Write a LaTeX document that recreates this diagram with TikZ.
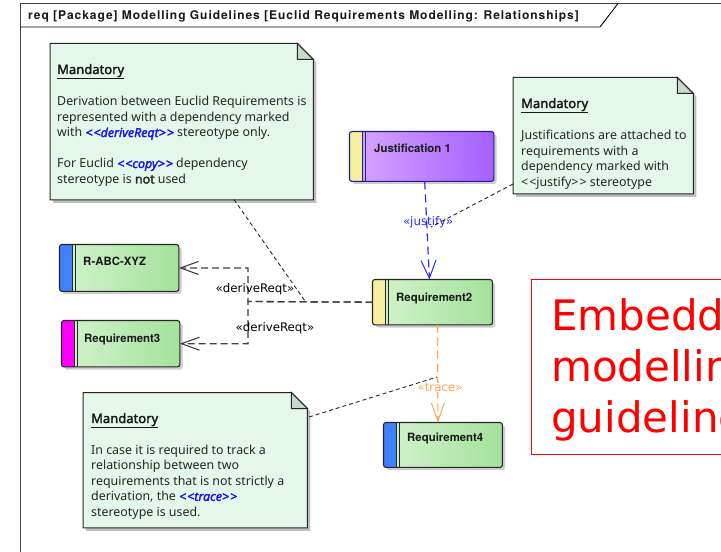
\documentclass[tikz,border=0pt]{standalone}
\usepackage{fontspec}
\setmainfont{Noto Sans}[BoldFont={Noto Sans}, BoldFeatures={FakeBold=2.2}, BoldItalicFont={Noto Sans Italic}, BoldItalicFeatures={FakeBold=2.2}]
\newfontfamily\herosf{TeX Gyre Heros}
\newfontfamily\titlef{TeX Gyre Heros}[LetterSpace=8]
\newfontfamily\dejavuf{DejaVu Sans}
\usetikzlibrary{arrows.meta}
\definecolor{notefill}{HTML}{E3F8EA}
\definecolor{foldfill}{HTML}{C4DBCB}
\definecolor{reqL}{HTML}{D4F3CE}
\definecolor{reqR}{HTML}{A4E29C}
\definecolor{jusL}{HTML}{D8A8FF}
\definecolor{jusR}{HTML}{A65FFF}
\definecolor{jusB}{HTML}{1E1E8C}
\definecolor{stripeY}{HTML}{F5F0A0}
\definecolor{stripeB}{HTML}{3F80FF}
\definecolor{stripeM}{HTML}{FF00FF}
\definecolor{jblue}{HTML}{2B2BFF}
\definecolor{torange}{HTML}{FFA550}
\definecolor{dgray}{HTML}{404040}
\definecolor{kwblue}{HTML}{1414F0}
\newcommand\kw[1]{{\color{kwblue}\bfseries\itshape #1}}
\newcommand\reqbox[8]{%
  \fill[black!20, rounded corners=2.5bp] (#2+3,#3+3) rectangle ++(#4,#5);
  \node[anchor=north west, minimum width=#4bp, minimum height=#5bp, inner sep=0pt,
        rounded corners=2.5bp, #7 fill] (#1) at (#2,#3) {};
  \begin{scope}
    \clip[rounded corners=2.5bp] (#1.north west) rectangle (#1.south east);
    \fill[#6] (#1.north west) rectangle ([xshift=13bp]#1.south west);
  \end{scope}
  \draw[#7 line, line width=1.2bp] ([xshift=13bp]#1.north west) -- ([xshift=13bp]#1.south west);
  \draw[#7 line, line width=0.9bp] ([xshift=16bp]#1.north west) -- ([xshift=16bp]#1.south west);
  \draw[#7 line, line width=1.1bp, rounded corners=2.5bp] (#1.north west) rectangle (#1.south east);
}
\newcommand\notebox[5]{% name x y w h
  \node[anchor=north west, minimum width=#4bp, minimum height=#5bp, inner sep=0pt] (#1) at (#2,#3) {};
  \fill[black!25] ([shift={(3bp,-3bp)}]#1.north west) -- ([shift={(-13bp,-3bp)}]#1.north east)
     -- ([shift={(3bp,-19bp)}]#1.north east) -- ([shift={(3bp,-3bp)}]#1.south east)
     -- ([shift={(3bp,-3bp)}]#1.south west) -- cycle;
  \draw[notebody] (#1.north west) -- ([xshift=-16bp]#1.north east) -- ([yshift=-16bp]#1.north east)
     -- (#1.south east) -- (#1.south west) -- cycle;
  \draw[notefold] ([xshift=-16bp]#1.north east) -- ([xshift=-16bp,yshift=-16bp]#1.north east)
     -- ([yshift=-16bp]#1.north east) -- cycle;
}
\tikzset{
  req fill/.style={left color=reqL, right color=reqR, draw=none},
  req line/.style={draw=black!85},
  jus fill/.style={left color=jusL, right color=jusR, draw=none},
  jus line/.style={draw=jusB},
  reqlabel/.style={font=\herosf\bfseries\fontsize{11.4bp}{13bp}\selectfont, inner sep=0pt, text=black!90},
  notebody/.style={fill=notefill, draw=black!85, line width=1bp},
  notefold/.style={fill=foldfill, draw=black!85, line width=1bp},
  notetext/.style={font=\fontsize{12.4bp}{15bp}\selectfont, inner sep=0pt, text=black!85, anchor=base west},
  notehead/.style={font=\bfseries\fontsize{13bp}{15bp}\selectfont, inner sep=0pt, text=black!90, anchor=base west},
  linklabel/.style={font=\dejavuf\fontsize{11.8bp}{13bp}\selectfont, inner sep=1pt},
  derive/.style={draw=dgray, line width=1.3bp, dash pattern=on 7bp off 4bp, -{Straight Barb[length=18bp,width=13bp,line width=1.1bp]}},
  justifyl/.style={draw=jblue, line width=1.2bp, dash pattern=on 8bp off 5bp, -{Straight Barb[length=18bp,width=15bp,line width=1bp]}},
  tracel/.style={draw=torange, line width=1.2bp, dash pattern=on 8bp off 5bp, -{Straight Barb[length=18bp,width=13bp,line width=1bp]}},
  notelink/.style={draw=black!85, line width=0.9bp, dash pattern=on 4bp off 3bp},
}
\begin{document}
\begin{tikzpicture}[x=1bp,y=-1bp]
\useasboundingbox (0,0) rectangle (721,552);
\clip (0,0) rectangle (721,552);
\fill[white] (0,0) rectangle (721,552);
% frame
\draw[black!75, line width=1bp] (20.5,560) -- (20.5,3.5) -- (730,3.5);
\draw[black, line width=0.9bp] (20.5,27) -- (600,27) -- (618,3.5);
\node[font=\titlef\bfseries\fontsize{12bp}{14bp}\selectfont, inner sep=0pt, anchor=base west, text=black!90] (title) at (28,20)
  {req [Package] Modelling Guidelines [Euclid Requirements Modelling: Relationships]};

% notes
\notebox{n1}{50}{43.5}{263}{156}
\node[notehead] (n1h) at (57,74) {\underline{Mandatory}};
\foreach \t [count=\i] in {{Derivation between Euclid Requirements is},{represented with a dependency marked},{with \kw{<\kern1bp<deriveReqt>\kern1bp>} stereotype only.}}
  \node[notetext] (n1a\i) at (57,106+15.5*\i-15.5) {\t};
\foreach \t [count=\i] in {{For Euclid \kw{<\kern1bp<copy>\kern1bp>} dependency},{stereotype is \textbf{not} used}}
  \node[notetext] (n1b\i) at (57,168+15.5*\i-15.5) {\t};

\notebox{n2}{513}{77.5}{180}{116}
\node[notehead] (n2h) at (521,108) {\underline{Mandatory}};
\foreach \t [count=\i] in {{Justifications are attached to},{requirements with a},{dependency marked with},{<\kern1bp<justify>\kern1bp> stereotype}}
  \node[notetext] (n2a\i) at (521,140+15.5*\i-15.5) {\t};

\notebox{n3}{83}{392.5}{224}{135}
\node[notehead] (n3h) at (91,423) {\underline{Mandatory}};
\foreach \t [count=\i] in {{In case it is required to track a},{relationship between two},{requirements that is not strictly a},{derivation, the \kw{<\kern1bp<trace>\kern1bp>}},{stereotype is used.}}
  \node[notetext] (n3a\i) at (91,454+15.6*\i-15.6) {\t};

% requirement boxes
\reqbox{j1}{349.5}{131.5}{144}{49.5}{stripeY}{jus}{}
\node[reqlabel, anchor=base west] (j1l) at (374,153) {Justification 1};
\reqbox{ra}{59.5}{244.5}{119}{46.5}{stripeB}{req}{}
\node[reqlabel, anchor=base west] (ral) at (83,266) {R-ABC-XYZ};
\reqbox{r3}{61.5}{320.5}{118}{46}{stripeM}{req}{}
\node[reqlabel, anchor=base west] (r3l) at (84,342) {Requirement3};
\reqbox{r2}{372.5}{279.5}{119.5}{45}{stripeY}{req}{}
\node[reqlabel, anchor=base west] (r2l) at (396,301) {Requirement2};
\reqbox{r4}{383.5}{422.5}{118.5}{44.5}{stripeB}{req}{}
\node[reqlabel, anchor=base west] (r4l) at (407,441) {Requirement4};

% red box
\node[draw=red, line width=1.3bp, anchor=north west, minimum width=220bp, minimum height=175bp, inner sep=0pt] (emb) at (530.5,278.5) {};
\foreach \t [count=\i] in {Embedded,modelling,guidelines}
  \node[font=\dejavuf\fontsize{42bp}{50bp}\selectfont, text=red, inner sep=0pt, anchor=base west] (emb\i) at (551,330+51*\i-51) {\t};

% connectors
\coordinate (dj) at (248,301.5);
\draw[derive] (r2.west) -- (dj) |- (ra.east);
\draw[derive] (r2.west) -- (dj) |- (r3.east);
\node[linklabel] (dl1) at (255,289) {«deriveReqt»};
\node[linklabel] (dl2) at (275,328.5) {«deriveReqt»};
\draw[justifyl] ([xshift=3bp]j1.south) -- ([xshift=-3bp]r2.north);
\node[linklabel, text=jblue] (jl) at (428,222) {«justify»};
\draw[tracel] ([xshift=5bp]r2.south) -- ([xshift=-5bp]r4.north);
\node[linklabel, text=torange, fill=white, inner sep=0.5pt] (tl) at (440,387.5) {«trace»};

% note links
\coordinate (c1a) at (234,199.5);
\coordinate (c1b) at (305,301);
\draw[notelink] (c1a) -- (c1b);
\coordinate (c2a) at (513,184);
\coordinate (c2b) at (431,227);
\draw[notelink] (c2a) -- (c2b);
\coordinate (c3a) at (309,417);
\coordinate (c3b) at (437,377);
\draw[notelink] (c3a) -- (c3b);
\end{tikzpicture}
\end{document}
